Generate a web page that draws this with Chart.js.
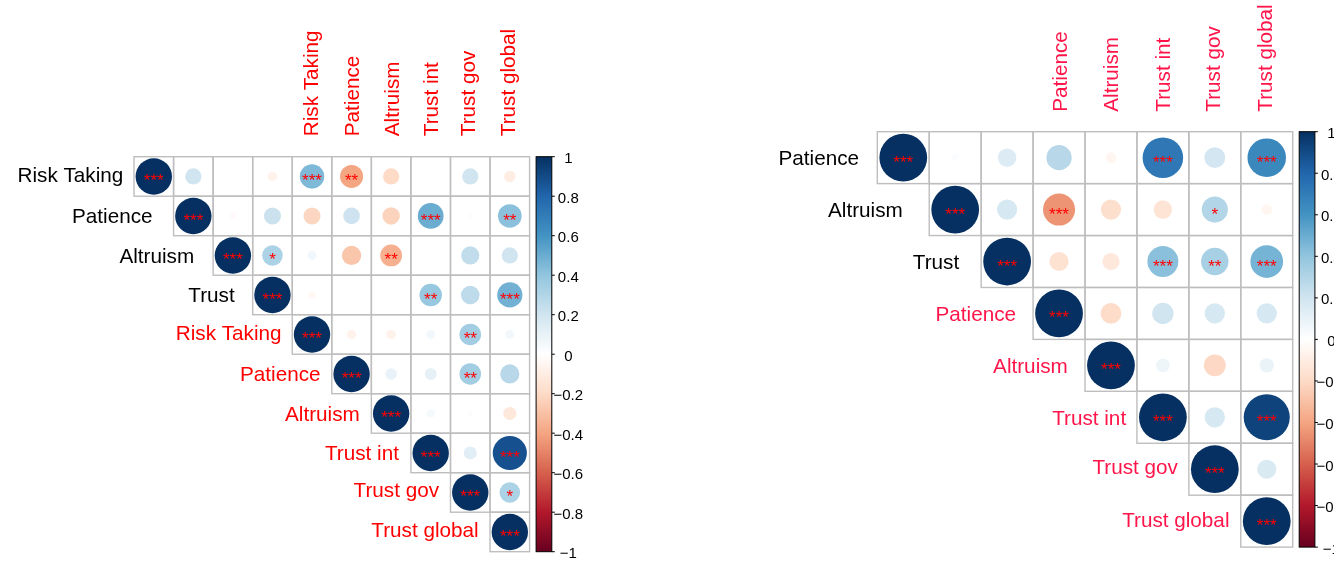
<!DOCTYPE html>
<html><head><meta charset="utf-8">
<script src="https://cdn.jsdelivr.net/npm/chart.js@4/dist/chart.umd.min.js"></script>
<style>
html,body{margin:0;padding:0;background:#fff;}
#wrap{position:relative;width:1334px;height:561px;overflow:hidden;background:#fff;}
.c{position:absolute;top:0;width:667px;height:561px;}
</style></head><body>
<div id="wrap">
<div class="c" style="left:0"><canvas id="leftChart" width="667" height="561"></canvas></div>
<div class="c" style="left:667px"><canvas id="rightChart" width="667" height="561"></canvas></div>
</div>
<script>
// ---------- data: left plot ----------
const leftRows = ["Risk Taking","Patience","Altruism","Trust","Risk Taking","Patience","Altruism","Trust int","Trust gov","Trust global"];
const leftCols = ["","","","","Risk Taking","Patience","Altruism","Trust int","Trust gov","Trust global"];
// upper triangle, each row starts at the diagonal
const leftValues = [
  [1, 0.20, 0.01, -0.07, 0.45, -0.40, -0.20, 0.01, 0.20, -0.10],
  [1, -0.03, 0.22, -0.22, 0.21, -0.23, 0.50, 0.02, 0.42],
  [1, 0.32, 0.06, -0.28, -0.36, 0.01, 0.25, 0.20],
  [1, -0.04, 0.003, 0.002, 0.38, 0.26, 0.48],
  [1, -0.07, -0.07, 0.06, 0.35, 0.06],
  [1, 0.10, 0.11, 0.35, 0.28],
  [1, 0.05, 0.02, -0.13],
  [1, 0.13, 0.88],
  [1, 0.32],
  [1]
];
const leftStars = [
  ["***","","","","***","**","","","",""],
  ["***","","","","","","***","","**"],
  ["***","*","","","**","","",""],
  ["***","","","","**","","***"],
  ["***","","","","**",""],
  ["***","","","**",""],
  ["***","","",""],
  ["***","","***"],
  ["***","*"],
  ["***"]
];
const leftBlackRows = 4;

// ---------- data: right plot ----------
const rightRows = ["Patience","Altruism","Trust","Patience","Altruism","Trust int","Trust gov","Trust global"];
const rightCols = ["","","","Patience","Altruism","Trust int","Trust gov","Trust global"];
const rightValues = [
  [1, 0.02, 0.15, 0.28, -0.05, 0.72, 0.19, 0.65],
  [1, 0.18, -0.45, -0.18, -0.15, 0.30, -0.05],
  [1, -0.16, -0.13, 0.42, 0.33, 0.47],
  [1, -0.19, 0.20, 0.18, 0.18],
  [1, 0.08, -0.21, 0.09],
  [1, 0.18, 0.93],
  [1, 0.16],
  [1]
];
const rightStars = [
  ["***","","","","","***","","***"],
  ["***","","***","","","*",""],
  ["***","","","***","**","***"],
  ["***","","","",""],
  ["***","","",""],
  ["***","","***"],
  ["***",""],
  ["***"]
];
const rightBlackRows = 3;

// ---------- colour legend ticks ----------
const legendTicks = [1, 0.8, 0.6, 0.4, 0.2, 0, -0.2, -0.4, -0.6, -0.8, -1];
const legendLabels = ["1","0.8","0.6","0.4","0.2","0","\u22120.2","\u22120.4","\u22120.6","\u22120.8","\u22121"];

// ---------- style ----------
const RDBU = ["#67001F","#B2182B","#D6604D","#F4A582","#FDDBC7","#FFFFFF","#D1E5F0","#92C5DE","#4393C3","#2166AC","#053061"];
const FONT = '"Liberation Sans", Arial, sans-serif';
const leftStyle = {
  padding: {left: 134, right: 137.4, top: 156.7, bottom: 9.3},
  labelGap: [10.7, 21, 19, 18, 10.7, 11.3, 11.6, 12, 11.5, 11.4],
  redColor: "#FF0000",
  colLabelGap: 20.5
};
const rightStyle = {
  padding: {left: 210.3, right: 41.3, top: 131.7, bottom: 13.9},
  labelGap: [18.3, 26.5, 22, 17, 17.2, 10.8, 11, 11.3],
  redColor: "#FF1549",
  colLabelGap: 20
};

function hexToRgb(h){return [parseInt(h.slice(1,3),16),parseInt(h.slice(3,5),16),parseInt(h.slice(5,7),16)];}
function colorFor(v){
  const t = (Math.max(-1, Math.min(1, v)) + 1) / 2 * 10;
  const i = Math.min(9, Math.floor(t));
  const f = t - i;
  const a = hexToRgb(RDBU[i]), b = hexToRgb(RDBU[i+1]);
  const c = a.map((x, k) => Math.round(x + (b[k] - x) * f));
  return `rgb(${c[0]},${c[1]},${c[2]})`;
}

function makeChart(canvasId, rows, cols, values, stars, blackRows, style) {
  const n = rows.length;
  const pts = [];
  values.forEach((row, i) => row.forEach((v, k) => {
    pts.push({x: i + k + 1, y: i + 1, v: v, s: stars[i][k]});
  }));

  const cellW = (chart) => chart.scales.x.getPixelForValue(1.5) - chart.scales.x.getPixelForValue(0.5);
  const radiusFn = (ctx) => {
    if (!ctx.raw) return 0;
    return 0.46 * cellW(ctx.chart) * Math.sqrt(Math.abs(ctx.raw.v));
  };

  const gridPlugin = {
    id: 'corrGrid',
    beforeDatasetsDraw(chart) {
      const {ctx, scales: {x, y}} = chart;
      ctx.save();
      ctx.fillStyle = '#FFFFFF';
      ctx.strokeStyle = '#BEBEBE';
      ctx.lineWidth = 1.4;
      for (let i = 1; i <= n; i++) {
        for (let j = i; j <= n; j++) {
          const x0 = x.getPixelForValue(j - 0.5), x1 = x.getPixelForValue(j + 0.5);
          const y0 = y.getPixelForValue(i - 0.5), y1 = y.getPixelForValue(i + 0.5);
          ctx.fillRect(x0, y0, x1 - x0, y1 - y0);
        }
      }
      for (let i = 1; i <= n; i++) {
        for (let j = i; j <= n; j++) {
          const x0 = x.getPixelForValue(j - 0.5), x1 = x.getPixelForValue(j + 0.5);
          const y0 = y.getPixelForValue(i - 0.5), y1 = y.getPixelForValue(i + 0.5);
          ctx.strokeRect(x0, y0, x1 - x0, y1 - y0);
        }
      }
      ctx.restore();
    },
    afterDatasetsDraw(chart) {
      const {ctx, scales: {x, y}} = chart;
      ctx.save();
      ctx.fillStyle = '#FF0000';
      ctx.font = `17px ${FONT}`;
      ctx.textAlign = 'center';
      ctx.textBaseline = 'alphabetic';
      pts.forEach(p => {
        if (!p.s) return;
        const m = ctx.measureText(p.s);
        const asc = m.actualBoundingBoxAscent, desc = m.actualBoundingBoxDescent;
        const px = x.getPixelForValue(p.x), py = y.getPixelForValue(p.y);
        ctx.fillText(p.s, px, py + (asc - desc) / 2 + 1);
      });
      ctx.restore();
    },
    afterDraw(chart) {
      const {ctx, chartArea, scales: {x, y, cb}} = chart;
      ctx.save();
      ctx.font = `20.7px ${FONT}`;
      // row labels
      ctx.textAlign = 'right';
      ctx.textBaseline = 'alphabetic';
      rows.forEach((lab, i) => {
        const m = ctx.measureText(lab);
        const asc = m.actualBoundingBoxAscent, desc = m.actualBoundingBoxDescent;
        const xr = x.getPixelForValue(i + 0.5) - style.labelGap[i];
        const yc = y.getPixelForValue(i + 1);
        ctx.fillStyle = i < blackRows ? '#000000' : style.redColor;
        ctx.fillText(lab, xr, yc + (asc - desc) / 2);
      });
      // column labels (rotated)
      ctx.textAlign = 'left';
      cols.forEach((lab, j) => {
        if (!lab) return;
        const m = ctx.measureText(lab);
        const asc = m.actualBoundingBoxAscent, desc = m.actualBoundingBoxDescent;
        const xc = x.getPixelForValue(j + 1);
        ctx.save();
        ctx.translate(xc + (asc - desc) / 2, chartArea.top - style.colLabelGap);
        ctx.rotate(-Math.PI / 2);
        ctx.fillStyle = style.redColor;
        ctx.fillText(lab, 0, 0);
        ctx.restore();
      });
      // colour legend
      const bx = chartArea.right + 6.5, bw = 15.7;
      const top = cb.getPixelForValue(1), bot = cb.getPixelForValue(-1);
      const g = ctx.createLinearGradient(0, bot, 0, top);
      RDBU.forEach((c, k) => g.addColorStop(k / (RDBU.length - 1), c));
      ctx.fillStyle = g;
      ctx.fillRect(bx, top, bw, bot - top);
      ctx.strokeStyle = '#000000';
      ctx.lineWidth = 1;
      ctx.strokeRect(bx, top, bw, bot - top);
      ctx.font = `15px ${FONT}`;
      ctx.fillStyle = '#000000';
      ctx.textAlign = 'center';
      ctx.textBaseline = 'alphabetic';
      legendTicks.forEach((t, k) => {
        const ty = cb.getPixelForValue(t);
        ctx.beginPath();
        ctx.moveTo(bx + bw, ty);
        ctx.lineTo(bx + bw + 3, ty);
        ctx.stroke();
        const lab = legendLabels[k];
        const m = ctx.measureText(lab);
        const asc = m.actualBoundingBoxAscent, desc = m.actualBoundingBoxDescent;
        ctx.fillText(lab, bx + bw + 16.5, ty + (asc - desc) / 2 + 1.5);
      });
      ctx.restore();
    }
  };

  return new Chart(document.getElementById(canvasId), {
    type: 'scatter',
    data: {
      datasets: [{
        data: pts,
        pointRadius: radiusFn,
        pointHoverRadius: radiusFn,
        pointBackgroundColor: (ctx) => ctx.raw ? colorFor(ctx.raw.v) : '#fff',
        pointHoverBackgroundColor: (ctx) => ctx.raw ? colorFor(ctx.raw.v) : '#fff',
        pointBorderWidth: 0,
        pointHoverBorderWidth: 0,
        pointBorderColor: 'rgba(0,0,0,0)'
      }]
    },
    options: {
      responsive: false,
      devicePixelRatio: 1,
      animation: false,
      events: [],
      layout: {padding: style.padding},
      plugins: {legend: {display: false}, tooltip: {enabled: false}},
      scales: {
        x: {type: 'linear', min: 0.5, max: n + 0.5, display: false},
        y: {type: 'linear', min: 0.5, max: n + 0.5, reverse: true, display: false},
        cb: {type: 'linear', axis: 'y', position: 'right', min: -1, max: 1, display: false}
      }
    },
    plugins: [gridPlugin]
  });
}

makeChart('leftChart', leftRows, leftCols, leftValues, leftStars, leftBlackRows, leftStyle);
makeChart('rightChart', rightRows, rightCols, rightValues, rightStars, rightBlackRows, rightStyle);
</script>
</body></html>
